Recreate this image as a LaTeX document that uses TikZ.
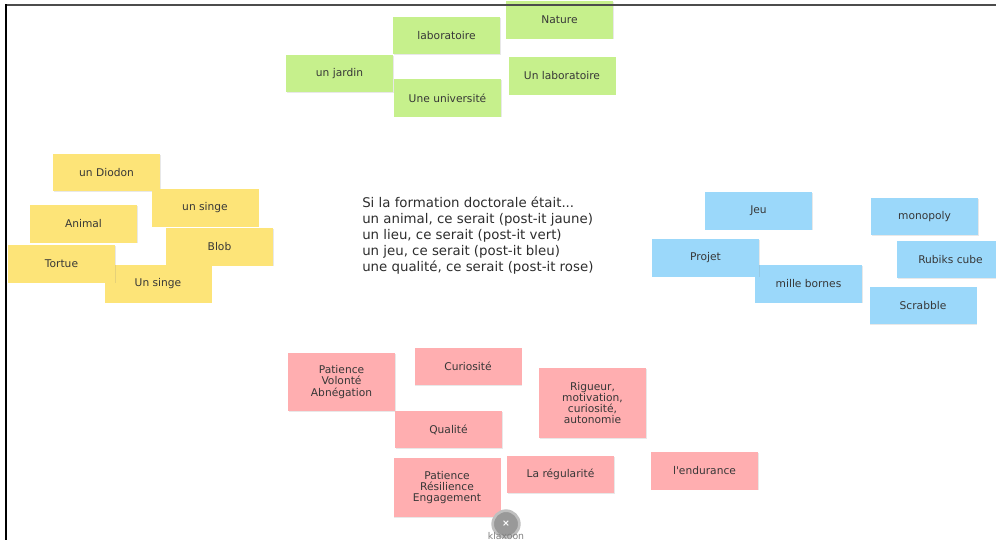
\documentclass[tikz,border=0pt]{standalone}
\usepackage{fontspec}
\setmainfont{DejaVu Sans}
\usetikzlibrary{shadows}
\definecolor{vert}{RGB}{198,240,140}
\definecolor{jaune}{RGB}{253,228,120}
\definecolor{bleu}{RGB}{155,216,250}
\definecolor{rose}{RGB}{255,174,176}
\definecolor{encre}{RGB}{55,55,55}
\definecolor{texte}{RGB}{45,45,45}
\tikzset{
 postit/.style={fill=#1, text=encre, minimum width=80.25pt, minimum height=28pt, inner sep=1pt,
  align=center, font=\fontsize{8}{8.3}\selectfont,
  drop shadow={shadow xshift=0.5pt, shadow yshift=-0.6pt, opacity=0.18}},
}

\begin{document}
\begin{tikzpicture}[x=0.75pt,y=-0.75pt]
\useasboundingbox (0,0) rectangle (996,540);
\clip (0,0) rectangle (996,540);
% un lieu (vert)
\foreach \n/\x/\y/\t in {lab/446.5/35.5/laboratoire, nature/559.5/20/Nature, jardin/339.5/73.5/un jardin,
  univ/447.5/98/Une université, unlab/562/76/Un laboratoire}
 \node[postit=vert] (\n) at (\x,\y) {\t};
% un animal (jaune)
\foreach \n/\x/\y/\t in {diodon/106.5/172.5/un Diodon, singeA/205/208/un singe, animal/83.5/224/Animal,
  blob/219.5/247/Blob, singeB/158/284/Un singe, tortue/61.5/264/Tortue}
 \node[postit=jaune] (\n) at (\x,\y) {\t};
% un jeu (bleu)
\foreach \n/\x/\y/\t in {jeu/758.5/211/Jeu, monopoly/924.5/216.5/monopoly, mille/808.5/284/mille bornes,
  projet/705.5/258/Projet, rubiks/950.5/259.5/Rubiks cube, scrabble/923/305.5/Scrabble}
 \node[postit=bleu] (\n) at (\x,\y) {\t};
% une qualite (rose)
\node[postit=rose, minimum height=43.5pt] (pva) at (341.5,382) {Patience\\Volonté\\Abnégation};
\node[postit=rose] (curio) at (468,366.5) {Curiosité};
\node[postit=rose, minimum height=52.5pt] (rigueur) at (592.5,403) {Rigueur,\\motivation,\\curiosité,\\autonomie};
\node[postit=rose] (qualite) at (448.5,429.5) {Qualité};
\node[postit=rose, minimum height=44pt] (pre) at (447,487.5) {Patience\\Résilience\\Engagement};
\node[postit=rose] (regul) at (560.5,474.5) {La régularité};
\node[postit=rose] (endur) at (704.5,471) {l\textquotesingle endurance};

\node[anchor=west, align=left, inner sep=0pt, text=texte, font=\fontsize{10}{11.85}\selectfont] (consigne) at (362,235.5)
 {Si la formation doctorale était...\\un animal, ce serait (post-it jaune)\\un lieu, ce serait (post-it vert)\\un jeu, ce serait (post-it bleu)\\une qualité, ce serait (post-it rose)};

\node[circle, fill=gray!80, draw=gray!50, line width=2pt, minimum size=20pt, inner sep=0pt, text=white,
 font=\fontsize{7}{7}\selectfont\bfseries] (logo) at (506,524) {×};
\node[text=gray, font=\fontsize{7}{7}\selectfont, inner sep=0pt] (klaxoon) at (506,536) {klaxoon};

\draw[line width=1.5pt, black!70] (5,5) -- (996,5);
\draw[line width=2pt, black] (6,4) -- (6,540);
\end{tikzpicture}
\end{document}
